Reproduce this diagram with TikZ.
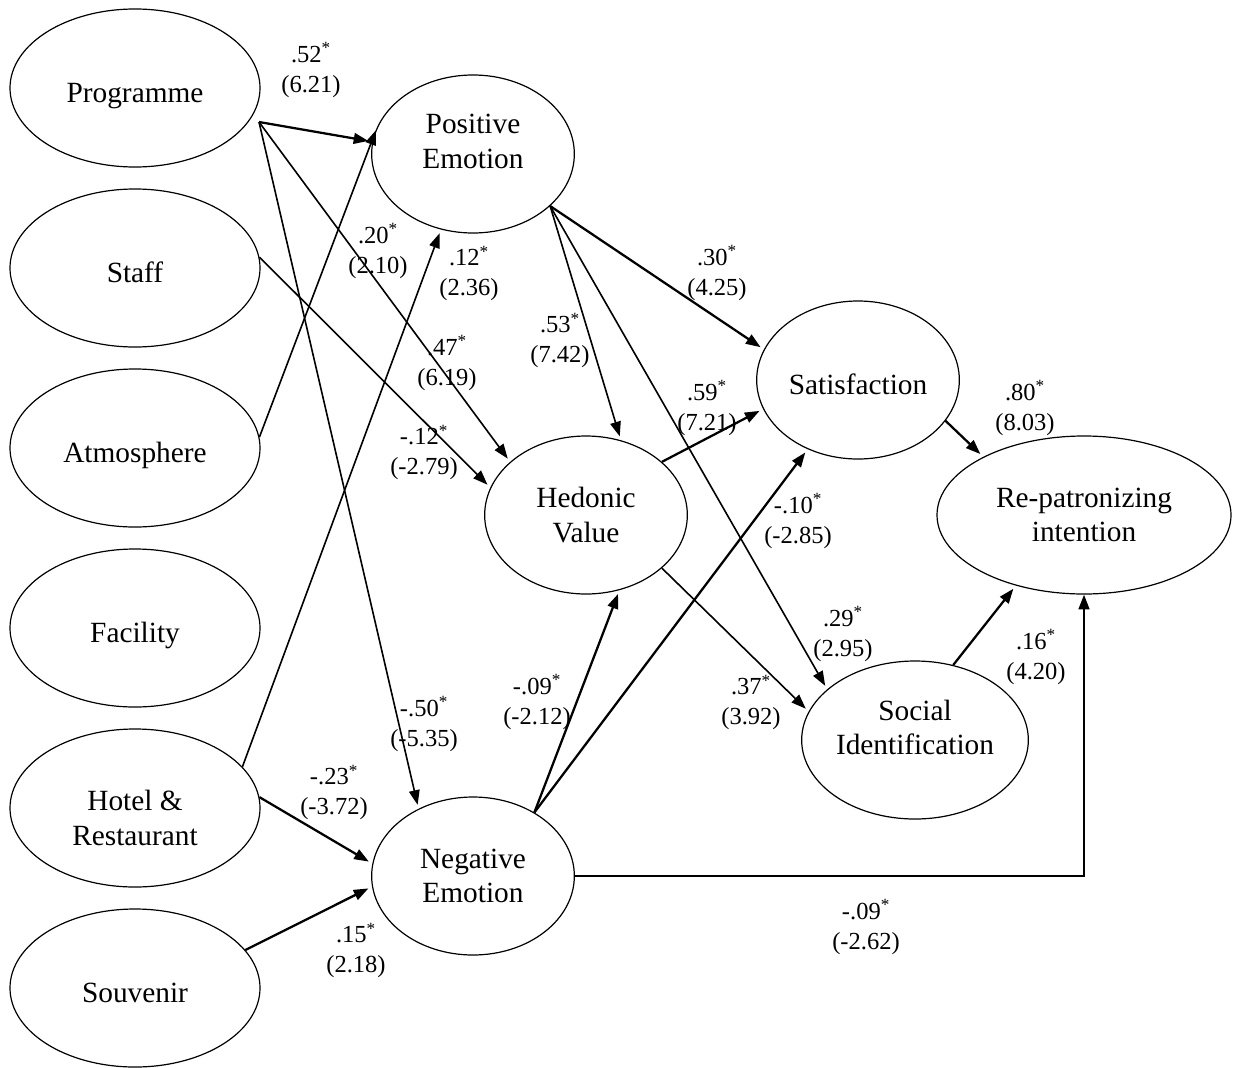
\documentclass[tikz,border=0pt]{standalone}
\usepackage{fontspec}
\setmainfont{Liberation Serif}
\usetikzlibrary{arrows.meta,shapes.geometric}

\begin{document}
\begin{tikzpicture}[x=0.75pt,y=0.75pt,yscale=-1,xscale=1,
		construct/.style={draw, ellipse, line width=0.9pt, inner sep=0pt, align=center, font=\fontsize{22}{26}\selectfont, minimum height=118.5pt},
		wide/.style={construct, minimum width=187.5pt, text height=22pt, text depth=0pt},
		emo/.style={construct, minimum width=152pt},
		link/.style={-{Triangle[length=11pt,width=8pt]}, line width=1.2pt, shorten >=3pt},
		boldlink/.style={link, line width=1.7pt},
		coef/.style={align=center, inner sep=0pt, font=\fontsize{18.4}{22.5}\selectfont}]
				\useasboundingbox (0,0) rectangle (1234,1067);

				%Shape: Ellipse (exogenous)
				\node[wide] (prog) at (135,88) {Programme};
				\node[wide] (staff) at (135,268) {Staff};
				\node[wide] (atmo) at (135,448) {Atmosphere};
				\node[wide] (faci) at (135,628) {Facility};
				\node[wide, text height=56pt] (hotel) at (135,808) {Hotel \&\\Restaurant};
				\node[wide] (souv) at (135,988) {Souvenir};
				%Shape: Ellipse (endogenous)
				\node[emo, text depth=19pt] (posemo) at (473,154) {Positive\\Emotion};
				\node[emo] (negemo) at (473,876) {Negative\\Emotion};
				\node[emo] (hedval) at (586,515) {Hedonic\\Value};
				\node[emo, text height=22pt, text depth=0pt] (satis) at (858,380) {Satisfaction};
				\node[construct, minimum width=170pt, text depth=19pt] (socid) at (915,740) {Social\\Identification};
				\node[construct, minimum width=220.5pt] (repat) at (1084,515) {Re-patronizing\\intention};

				\coordinate (progout) at (259,122);

				%Straight Lines
				\draw[boldlink] (progout) -- (posemo.173.8);
				\draw[link] (progout) -- (hedval.145.8);
				\draw[link] (progout) -- (negemo.129.4);
				\draw[link] (staff.5) -- (hedval.164.2);
				\draw[link] (atmo.5) -- (posemo.164.3);
				\draw[link] (hotel.21.8) -- (posemo.247.4);
				\draw[boldlink] (hotel.5) -- (negemo.173);
				\draw[boldlink] (souv.19) -- (negemo.186.8);
				%Straight Lines
				\draw[link] (posemo.-34) -- (hedval.65.8);
				\draw[boldlink] (posemo.-34) -- (satis.162.9);
				\draw[link] (posemo.-34) -- (socid.150.1);
				\draw[boldlink] (hedval.35.7) -- (satis.197.1);
				\draw[link] (hedval.-35.8) -- (socid.165.6);
				\draw[boldlink] (negemo.46.8) -- (hedval.-66.1);
				\draw[boldlink] (negemo.46.8) -- (satis.234);
				\draw[boldlink] (satis.-25.8) -- (repat.150.8);
				\draw[boldlink] (socid.63.7) -- (repat.226.6);
				\draw[boldlink, shorten >=0pt] (negemo.east) -| (repat.south);

				% Text Node
				\node[coef] (c52) at (311,70) {.52\textsuperscript{*}\\(6.21)};
				\node[coef] (c20) at (378,251) {.20\textsuperscript{*}\\(2.10)};
				\node[coef] (c12) at (469,273.5) {.12\textsuperscript{*}\\(2.36)};
				\node[coef] (c47) at (447,363) {.47\textsuperscript{*}\\(6.19)};
				\node[coef] (c53) at (560,340.5) {.53\textsuperscript{*}\\(7.42)};
				\node[coef] (c30) at (717,273) {.30\textsuperscript{*}\\(4.25)};
				\node[coef] (c59) at (707,408) {.59\textsuperscript{*}\\(7.21)};
				\node[coef] (cm12) at (424,452.5) {-.12\textsuperscript{*}\\(-2.79)};
				\node[coef] (c80) at (1025,408) {.80\textsuperscript{*}\\(8.03)};
				\node[coef] (cm10) at (798,521) {-.10\textsuperscript{*}\\(-2.85)};
				\node[coef] (c29) at (843,634) {.29\textsuperscript{*}\\(2.95)};
				\node[coef] (c16) at (1036,657) {.16\textsuperscript{*}\\(4.20)};
				\node[coef] (c37) at (751,702.5) {.37\textsuperscript{*}\\(3.92)};
				\node[coef] (cm09a) at (537,702) {-.09\textsuperscript{*}\\(-2.12)};
				\node[coef] (cm50) at (424,724) {-.50\textsuperscript{*}\\(-5.35)};
				\node[coef] (cm23) at (334,792.5) {-.23\textsuperscript{*}\\(-3.72)};
				\node[coef] (c15) at (356,950.5) {.15\textsuperscript{*}\\(2.18)};
				\node[coef] (cm09b) at (866,927) {-.09\textsuperscript{*}\\(-2.62)};

		\end{tikzpicture}
\end{document}
